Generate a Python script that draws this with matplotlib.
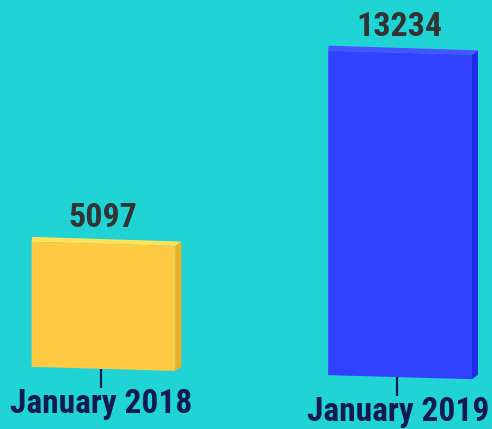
import numpy as np
import matplotlib.pyplot as plt
import matplotlib.transforms as mtransforms
from matplotlib.patches import Polygon

# Chart data
categories = ['January 2018', 'January 2019']
values = [5097, 13234]

# Colours: front, side and top faces of each bar
front_colors = ['#FFCA42', '#3042FF']
side_colors = ['#E8B22C', '#1B2BE4']
top_colors = ['#FFE257', '#4654FF']

BG = '#20D4D6'
FONT = ['Roboto Condensed', 'Roboto', 'DejaVu Sans']

W, H = 492, 429
fig = plt.figure(figsize=(W / 100, H / 100), dpi=100, facecolor=BG)
ax = fig.add_axes([0, 0, 1, 1])
ax.set_facecolor(BG)

XLIM = (-0.349, 1.310)
YLIM = (-2284, 15212)
px_x = W / (XLIM[1] - XLIM[0])   # pixels per x unit
px_y = H / (YLIM[1] - YLIM[0])   # pixels per y unit

# the whole chart leans a little, right side lower
tilt = mtransforms.Affine2D().translate(-251, 0).skew(0, -np.arctan(0.028)).translate(251, 0)
trans = ax.transData + tilt

bar_w = 0.485
xs = np.arange(len(values))
bars = ax.bar(xs, values, width=bar_w, color=front_colors, linewidth=0, transform=trans, zorder=3)

for i, v in enumerate(values):
    x0, x1 = xs[i] - bar_w / 2, xs[i] + bar_w / 2
    # depth offsets (pixels) for back-left and back-right corners
    bl = (0.5 / px_x, 5 / px_y)
    br = (6 / px_x, 4.5 / px_y)
    side = Polygon([(x1, 0), (x1, v), (x1 + br[0], v + br[1]), (x1 + br[0], br[1])],
                   closed=True, facecolor=side_colors[i], linewidth=0,
                   transform=trans, zorder=2)
    top = Polygon([(x0, v), (x1, v), (x1 + br[0], v + br[1]), (x0 + bl[0], v + bl[1])],
                  closed=True, facecolor=top_colors[i], linewidth=0,
                  transform=trans, zorder=2)
    ax.add_patch(side)
    ax.add_patch(top)

    # value labels
    ax.annotate(str(v), xy=(xs[i], v), xycoords=trans, xytext=(-1, 26),
                textcoords='offset pixels', ha='center', va='center',
                fontsize=24.5, fontweight='bold', color='#333333', family=FONT)

    # tick below the bar
    tx = xs[i] - 3 / px_x
    ax.plot([tx, tx], [0, -19 / px_y], color='#111A4A', linewidth=1.6,
            transform=trans, solid_capstyle='butt', zorder=3)

    # category labels
    ax.annotate(categories[i], xy=(xs[i], 0), xycoords=trans, xytext=(-2, -44),
                textcoords='offset pixels', ha='center', va='baseline',
                fontsize=24, fontweight='bold', color='#121A4E', family=FONT)

ax.set_xlim(*XLIM)
ax.set_ylim(*YLIM)
ax.axis('off')

fig.savefig('out.png', dpi=100, facecolor=BG)
